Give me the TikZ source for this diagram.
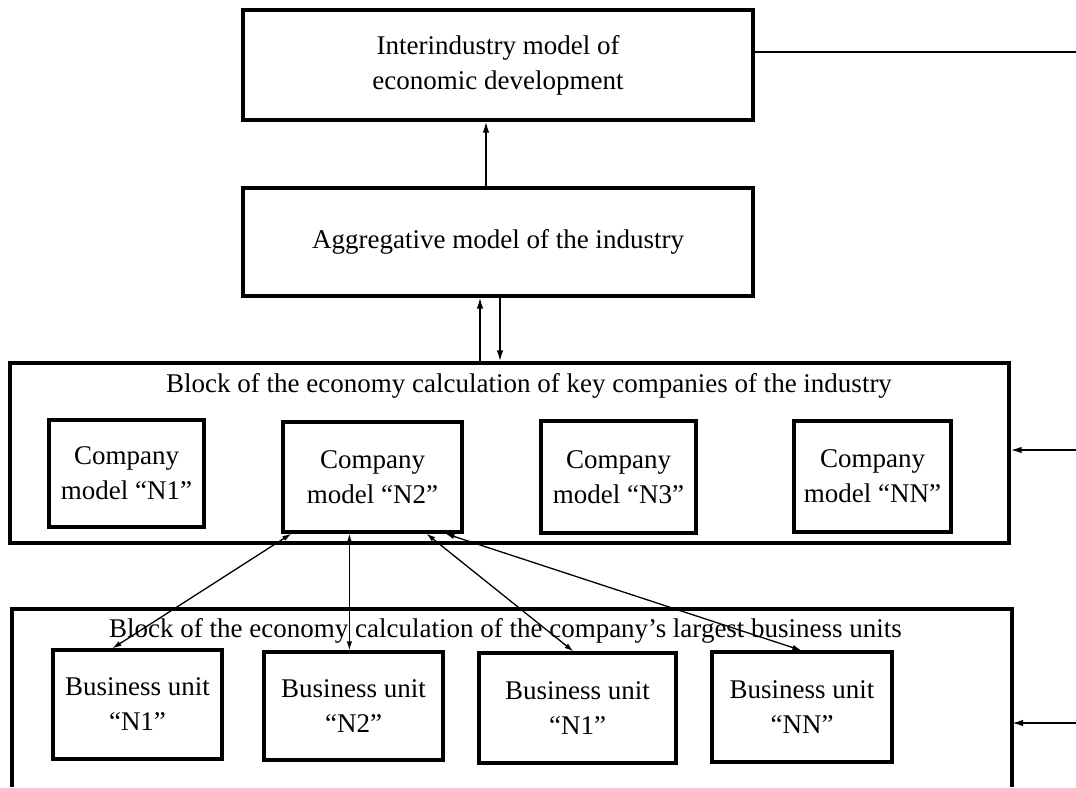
\documentclass[tikz,border=0pt]{standalone}
\usepackage{fontspec}
\setmainfont{Liberation Serif}
\usetikzlibrary{arrows.meta}
\begin{document}
\begin{tikzpicture}[x=1pt,y=-1pt,
  box/.style={draw, line width=3.2pt, inner sep=0pt, align=center,
    font=\fontsize{27}{35}\selectfont},
  title/.style={inner sep=0pt, font=\fontsize{27}{35}\selectfont},
  arr/.style={line width=1.6pt, -{Latex[length=11pt,width=6.5pt]}},
  dbl/.style={line width=1.3pt, {Latex[length=9pt,width=5.5pt]}-{Latex[length=9pt,width=5.5pt]}},
  plain/.style={line width=1.6pt}]
\useasboundingbox (0,0) rectangle (1076,787);
% top boxes
\node[box, minimum width=510pt, minimum height=110pt] (top) at (498,65) {Interindustry model of\\economic development};
\node[box, minimum width=510pt, minimum height=108pt] (aggr) at (498,242) {Aggregative model of the industry};
% middle block
\node[draw, line width=3.2pt, minimum width=999pt, minimum height=180pt, inner sep=0pt] (mid) at (509.5,453) {};
\node[title] (midtitle) at (529,386) {Block of the economy calculation of key companies of the industry};
\node[box, minimum width=155pt, minimum height=107pt] (n1) at (126.5,473.5) {Company\\model “N1”};
\node[box, minimum width=179pt, minimum height=110pt] (n2) at (372.5,477) {Company\\model “N2”};
\node[box, minimum width=155pt, minimum height=112pt] (n3) at (618.5,477) {Company\\model “N3”};
\node[box, minimum width=157pt, minimum height=111pt] (nn) at (872.5,476.5) {Company\\model “NN”};
% lower block (open at the bottom)
\coordinate (lbBL) at (12,787);
\coordinate (lbTL) at (12,609);
\coordinate (lbTR) at (1012,609);
\coordinate (lbBR) at (1012,787);
\draw[line width=3.2pt] (lbBL) -- (lbTL) -- (lbTR) -- (lbBR);
\node[title] (lowtitle) at (505.5,631) {Block of the economy calculation of the company’s largest business units};
\node[box, minimum width=169pt, minimum height=109pt] (b1) at (137.5,704.5) {Business unit\\“N1”};
\node[box, minimum width=179pt, minimum height=108pt] (b2) at (353.5,706) {Business unit\\“N2”};
\node[box, minimum width=197pt, minimum height=110pt] (b3) at (577.5,708) {Business unit\\“N1”};
\node[box, minimum width=180pt, minimum height=110pt] (b4) at (802,707) {Business unit\\“NN”};
% connectors
\draw[arr] ([xshift=-12pt]aggr.north) -- ([xshift=-12pt]top.south);
\coordinate (u1) at ([xshift=-18pt]aggr.south);
\coordinate (d1) at ([xshift=2pt]aggr.south);
\draw[arr] (u1 |- mid.north) -- (u1);
\draw[arr] (d1) -- (d1 |- mid.north);
\coordinate (rtop) at (1076,52);
\draw[plain] ([yshift=13pt]top.east) -- (rtop);
\coordinate (rmid) at (1076,450);
\draw[arr] (rmid) -- (rmid -| mid.east);
\coordinate (rlow) at (1076,723);
\coordinate (lbR) at (1012,723);
\draw[arr] (rlow) -- (lbR);
\draw[dbl] ([xshift=10pt]n2.south west) -- ([xshift=61pt]b1.north west);
\draw[dbl] ([xshift=68pt]n2.south west) -- ([xshift=87pt]b2.north west);
\draw[dbl] ([xshift=145pt]n2.south west) -- ([xshift=96pt]b3.north west);
\draw[dbl] ([xshift=164pt]n2.south west) -- ([xshift=91pt]b4.north west);
\end{tikzpicture}
\end{document}
